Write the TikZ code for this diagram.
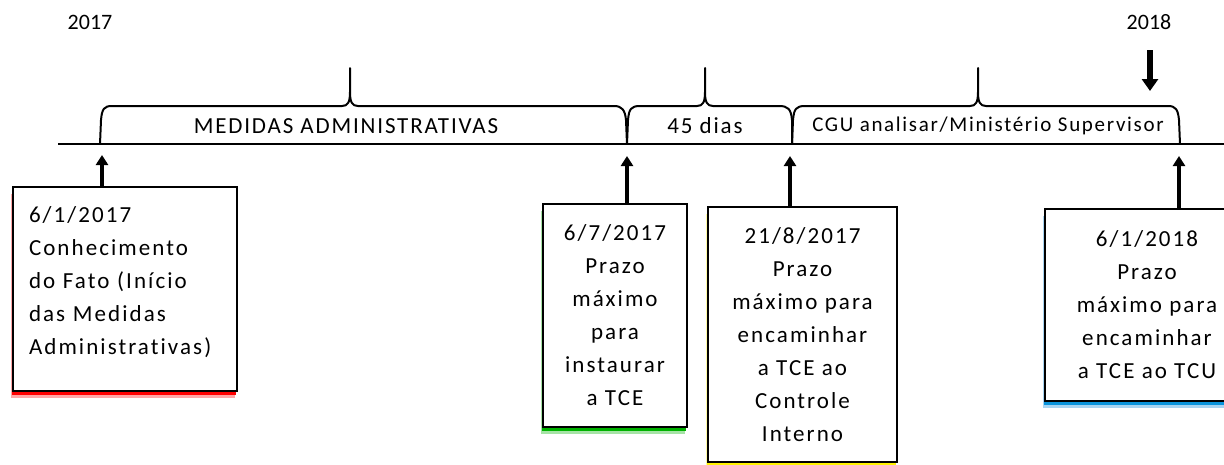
\documentclass[tikz,border=0pt]{standalone}
\usepackage{fontspec}
\setmainfont{Carlito}[LetterSpace=9,Ligatures=NoCommon]
\newfontfamily\spanfont{Carlito}[LetterSpace=8,Ligatures=NoCommon]
\newfontfamily\yearfont{Carlito}
\usetikzlibrary{arrows.meta,shadows}
\begin{document}
\begin{tikzpicture}[x=1pt,y=-1pt,
  box/.style={draw, line width=1.6pt, fill=white, inner sep=0pt,
    font=\fontsize{23}{33}\selectfont, align=center},
  glow/.style={drop shadow={shadow xshift=-2pt, shadow yshift=-7pt, fill=#1!35, opacity=1},
               drop shadow={shadow xshift=-1pt, shadow yshift=-4pt, fill=#1, opacity=1}},
  bracepath/.style={line width=2pt, line join=round},
  uparrow/.style={line width=4pt, -{Triangle[width=12pt,length=10pt]}},
  span/.style={font=\spanfont\fontsize{23}{26}\selectfont},
  year/.style={font=\yearfont\fontsize{22}{24}\selectfont}
]
\useasboundingbox (0,0) rectangle (1224,464);
% years
\node[year] (y17) at (90,22) {2017};
\node[year] (y18) at (1149,22) {2018};
\coordinate (a18s) at (1150,50);
\coordinate (a18e) at (1150,91);
\draw[line width=6pt, -{Triangle[width=16pt,length=12pt]}] (a18s) -- (a18e);
% timeline
\coordinate (tlL) at (58,144);
\coordinate (tlR) at (1224,144);
\draw[line width=2pt] (tlL) -- (tlR);
% braces
\draw[bracepath] (100,144) -- (101,120) .. controls (102,109) and (104,106) .. (112,106)
  -- (342,106) .. controls (348,106) and (350,102) .. (350,92) -- (350,68)
  -- (350,92) .. controls (350,102) and (352,106) .. (358,106)
  -- (614,106) .. controls (622,106) and (625,110) .. (626,120) -- (627,144);
\draw[bracepath] (627,144) -- (628,120) .. controls (629,109) and (631,106) .. (640,106)
  -- (697,106) .. controls (703,106) and (705,102) .. (705,92) -- (705,68)
  -- (705,92) .. controls (705,102) and (707,106) .. (713,106)
  -- (779,106) .. controls (788,106) and (791,109) .. (792,120) -- (792,144);
\draw[bracepath] (792,144) -- (793,120) .. controls (794,109) and (796,106) .. (805,106)
  -- (970,106) .. controls (976,106) and (978,102) .. (978,92) -- (978,68)
  -- (978,92) .. controls (978,102) and (980,106) .. (986,106)
  -- (1168,106) .. controls (1176,106) and (1178,110) .. (1179,120) -- (1180,144);
% span labels
\node[span] (l1) at (346,126) {MEDIDAS ADMINISTRATIVAS};
\node[span] (l2) at (705,126) {45 dias};
\node[span, font=\spanfont\fontsize{21}{24}\selectfont] (l3) at (988,126) {CGU analisar/Ministério Supervisor};
% boxes
\node[box, glow=red, minimum width=224pt, minimum height=204pt, inner xsep=16pt,
  text width=192pt, align=left] (b1) at (125,289)
  {6/1/2017\\Conhecimento\\do Fato (Início\\das Medidas\\Administrativas)\\[-17pt]\mbox{}};
\node[box, glow=green!70!black, minimum width=144pt, minimum height=223pt] (b2) at (615,315.5)
  {6/7/2017\\Prazo\\máximo\\para\\instaurar\\a TCE};
\node[box, glow=yellow, minimum width=189pt, minimum height=255pt] (b3) at (802.5,334.5)
  {21/8/2017\\Prazo\\máximo para\\encaminhar\\a TCE ao\\Controle\\Interno};
\node[box, glow=cyan!80!blue, minimum width=204pt, minimum height=192pt] (b4) at (1147,305)
  {6/1/2018\\Prazo\\máximo para\\encaminhar\\a TCE ao TCU};
% arrows up
\coordinate (p1) at (102,155);
\coordinate (p2) at (627,156);
\coordinate (p3) at (790,156);
\coordinate (p4) at (1179,156);
\draw[uparrow] (p1 |- b1.north) -- (p1);
\draw[uparrow] (p2 |- b2.north) -- (p2);
\draw[uparrow] (p3 |- b3.north) -- (p3);
\draw[uparrow] (p4 |- b4.north) -- (p4);
\end{tikzpicture}
\end{document}
